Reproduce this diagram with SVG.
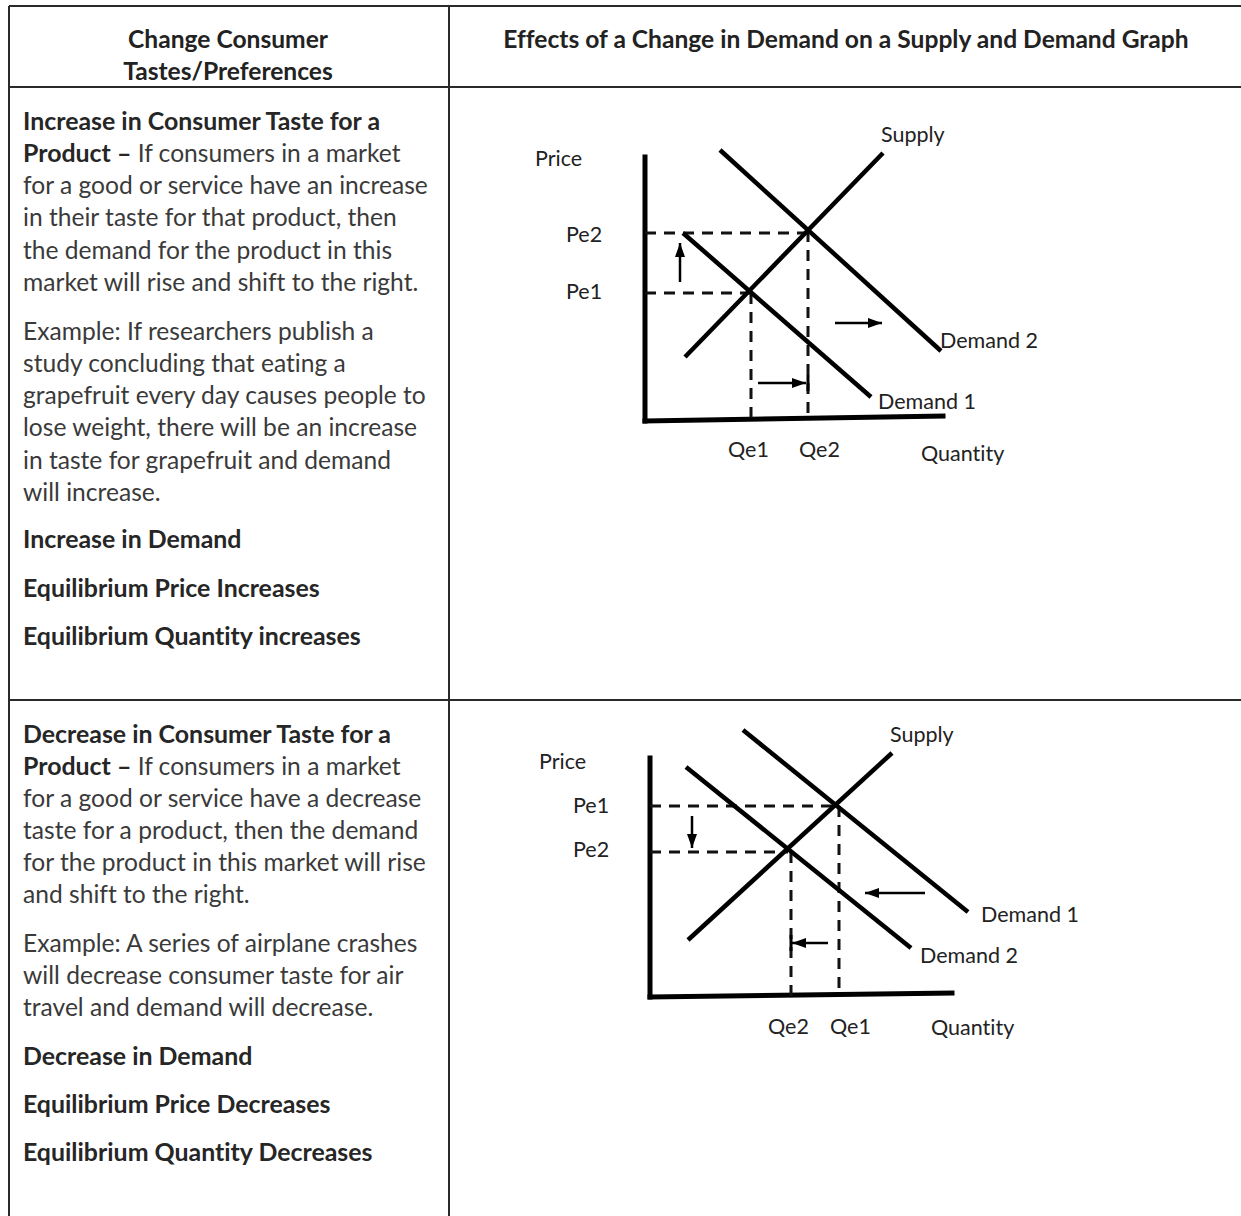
<svg xmlns="http://www.w3.org/2000/svg" width="1241" height="1216" viewBox="0 0 1241 1216">
  <defs>
    <style>
      text { font-variant-ligatures: none; }
      .grid { stroke: #2a2a2a; stroke-width: 2; fill: none; }
      .hdr { font-family: Lato, "Liberation Sans", sans-serif; font-weight: 700; font-size: 24.6px; fill: #222; }
      .body { font-family: Lato, "Liberation Sans", sans-serif; font-size: 24.6px; fill: #3a3a3a; }
      .bold { font-family: Lato, "Liberation Sans", sans-serif; font-weight: 700; font-size: 24.9px; fill: #262626; }
      .lbl { font-family: Lato, "Liberation Sans", sans-serif; font-size: 21.5px; fill: #222; }
      .axis { stroke: #000; stroke-width: 5; fill: none; stroke-linecap: square; }
      .curve { stroke: #000; stroke-width: 4.5; fill: none; }
      .dash { stroke: #111; stroke-width: 3; fill: none; stroke-dasharray: 11 8; }
      .shift { stroke: #000; stroke-width: 2.5; fill: none; marker-end: url(#head); }
      .bar { stroke: #000; stroke-width: 3; }
    </style>
    <marker id="head" viewBox="0 0 14 10" refX="14" refY="5" markerWidth="14" markerHeight="10" markerUnits="userSpaceOnUse" orient="auto">
      <path d="M0 0 L14 5 L0 10 z" fill="#000"/>
    </marker>
  </defs>

  <rect width="1241" height="1216" fill="#fff"/>

  <!-- table frame -->
  <g id="table-grid" class="grid">
    <path d="M9 6 H1241"/>
    <path d="M9 6 V1216"/>
    <path d="M449 6 V1216"/>
    <path d="M9 87 H1241"/>
    <path d="M9 700 H1241"/>
  </g>

  <!-- column headings -->
  <g id="header-left">
    <text class="hdr" x="228" y="48" text-anchor="middle">Change Consumer</text>
    <text class="hdr" x="228" y="80" text-anchor="middle">Tastes/Preferences</text>
  </g>
  <g id="header-right">
    <text class="hdr" x="846" y="48" text-anchor="middle">Effects of a Change in Demand on a Supply and Demand Graph</text>
  </g>

  <!-- row 1: increase in taste -->
  <g id="increase-text">
    <text class="bold" x="23" y="130">Increase in Consumer Taste for a</text>
    <text x="23" y="162"><tspan class="bold">Product –</tspan><tspan class="body"> If consumers in a market</tspan></text>
    <text class="body" x="23" y="194">for a good or service have an increase</text>
    <text class="body" x="23" y="226">in their taste for that product, then</text>
    <text class="body" x="23" y="259">the demand for the product in this</text>
    <text class="body" x="23" y="291">market will rise and shift to the right.</text>
    <text class="body" x="23" y="340">Example: If researchers publish a</text>
    <text class="body" x="23" y="372">study concluding that eating a</text>
    <text class="body" x="23" y="404">grapefruit every day causes people to</text>
    <text class="body" x="23" y="436">lose weight, there will be an increase</text>
    <text class="body" x="23" y="469">in taste for grapefruit and demand</text>
    <text class="body" x="23" y="501">will increase.</text>
    <text class="bold" x="23" y="548">Increase in Demand</text>
    <text class="bold" x="23" y="597">Equilibrium Price Increases</text>
    <text class="bold" x="23" y="645">Equilibrium Quantity increases</text>
  </g>

  <!-- row 2: decrease in taste -->
  <g id="decrease-text">
    <text class="bold" x="23" y="743">Decrease in Consumer Taste for a</text>
    <text x="23" y="775"><tspan class="bold">Product –</tspan><tspan class="body"> If consumers in a market</tspan></text>
    <text class="body" x="23" y="807">for a good or service have a decrease</text>
    <text class="body" x="23" y="839">taste for a product, then the demand</text>
    <text class="body" x="23" y="871">for the product in this market will rise</text>
    <text class="body" x="23" y="903">and shift to the right.</text>
    <text class="body" x="23" y="952">Example: A series of airplane crashes</text>
    <text class="body" x="23" y="984">will decrease consumer taste for air</text>
    <text class="body" x="23" y="1016">travel and demand will decrease.</text>
    <text class="bold" x="23" y="1065">Decrease in Demand</text>
    <text class="bold" x="23" y="1113">Equilibrium Price Decreases</text>
    <text class="bold" x="23" y="1161">Equilibrium Quantity Decreases</text>
  </g>

  <!-- graph 1: demand shifts right -->
  <g id="graph-increase">
    <g id="g1-axes">
      <path class="axis" d="M645 157 V421"/>
      <path class="axis" d="M645 421 L943 416"/>
    </g>
    <g id="g1-labels">
      <text class="lbl" x="535" y="166">Price</text>
      <text class="lbl" x="566" y="242">Pe2</text>
      <text class="lbl" x="566" y="299">Pe1</text>
      <text class="lbl" x="881" y="142">Supply</text>
      <text class="lbl" x="940" y="348">Demand 2</text>
      <text class="lbl" x="878" y="409">Demand 1</text>
      <text class="lbl" x="728" y="457">Qe1</text>
      <text class="lbl" x="799" y="457">Qe2</text>
      <text class="lbl" x="921" y="461">Quantity</text>
    </g>
    <g id="g1-connectors">
      <path class="dash" d="M645 233 H807"/>
      <path class="dash" d="M645 293 H750"/>
      <path class="dash" d="M751 293 V420"/>
      <path class="dash" d="M808 231 V418"/>
      <path class="curve" d="M685 357 L883 153"/>
      <path class="curve" d="M683 233 L871 397"/>
      <path class="curve" d="M720 150 L941 351"/>
      <path class="shift" d="M680 282 V243"/>
      <path class="shift" d="M835 323 H882"/>
      <path class="shift" d="M758 383 H806"/>
      <path class="bar" d="M808 375 V391"/>
    </g>
  </g>

  <!-- graph 2: demand shifts left -->
  <g id="graph-decrease">
    <g id="g2-axes">
      <path class="axis" d="M650 758 V997"/>
      <path class="axis" d="M650 997 L952 993"/>
    </g>
    <g id="g2-labels">
      <text class="lbl" x="539" y="769">Price</text>
      <text class="lbl" x="573" y="813">Pe1</text>
      <text class="lbl" x="573" y="857">Pe2</text>
      <text class="lbl" x="890" y="742">Supply</text>
      <text class="lbl" x="981" y="922">Demand 1</text>
      <text class="lbl" x="920" y="963">Demand 2</text>
      <text class="lbl" x="768" y="1034">Qe2</text>
      <text class="lbl" x="830" y="1034">Qe1</text>
      <text class="lbl" x="931" y="1035">Quantity</text>
    </g>
    <g id="g2-connectors">
      <path class="dash" d="M650 806 H837"/>
      <path class="dash" d="M650 852 H788"/>
      <path class="dash" d="M791 852 V997"/>
      <path class="dash" d="M839 806 V990"/>
      <path class="curve" d="M688 940 L892 753"/>
      <path class="curve" d="M743 730 L968 912"/>
      <path class="curve" d="M686 767 L911 948"/>
      <path class="shift" d="M692 816 V848"/>
      <path class="shift" d="M925 893 H865"/>
      <path class="shift" d="M828 943 H792"/>
      <path class="bar" d="M791 935 V951"/>
    </g>
  </g>
</svg>
